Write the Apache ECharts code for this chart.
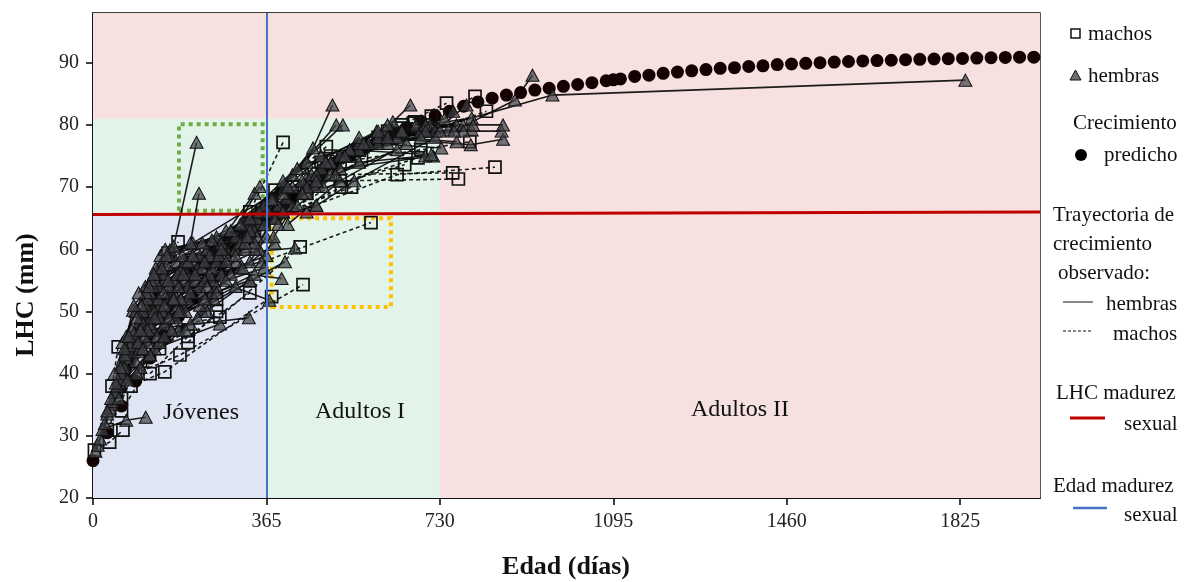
<!DOCTYPE html>
<html>
<head>
<meta charset="utf-8">
<script src="https://cdn.jsdelivr.net/npm/echarts@6/dist/echarts.min.js"></script>
<style>
  html, body { margin: 0; padding: 0; background: #fff; }
  #main { width: 1188px; height: 582px; }
</style>
</head>
<body>
<div id="main"></div>
<script>
// ejes
var etiquetasX = [0, 365, 730, 1095, 1460, 1825];
var etiquetasY = [20, 30, 40, 50, 60, 70, 80, 90];
var edadMax = 1993;
var lhcMin = 20, lhcMax = 98;

// limites de madurez y zonas
var edadMadurez = 365;
var lhcMadurez = [65.6, 66.0];
var limiteAdultosI = 730;
var lhcZonaVerde = 81;
var cajaVerde = [[181, 66.2], [357, 80.1]];
var cajaAmarilla = [[376, 50.7], [627, 65.0]];

// crecimiento predicho
var predDias = [0, 30, 60, 90, 120, 150, 180, 210, 240, 270, 300, 330, 360, 390, 420, 450, 480, 510, 540, 570,
  600, 630, 660, 690, 720, 750, 780, 810, 840, 870, 900, 930, 960, 990, 1020, 1050, 1080, 1095, 1110, 1140,
  1170, 1200, 1230, 1260, 1290, 1320, 1350, 1380, 1410, 1440, 1470, 1500, 1530, 1560, 1590, 1620, 1650, 1680,
  1710, 1740, 1770, 1800, 1830, 1860, 1890, 1920, 1950, 1980];
var predLHC = [26, 30.5, 34.8, 38.8, 42.5, 46, 49.2, 52.2, 55, 57.6, 60, 62.3, 64.6, 66.7, 68.6, 70.4, 72.1, 73.6, 75, 76.3,
  77.5, 78.6, 79.6, 80.6, 81.5, 82.2, 83, 83.7, 84.3, 84.8, 85.2, 85.6, 85.9, 86.2, 86.5, 86.8, 87.1, 87.25, 87.4, 87.8,
  88, 88.3, 88.5, 88.7, 88.9, 89.1, 89.2, 89.4, 89.5, 89.7, 89.8, 89.9, 90, 90.1, 90.2, 90.3, 90.35, 90.4,
  90.5, 90.55, 90.6, 90.65, 90.7, 90.75, 90.8, 90.85, 90.9, 90.9];

// trayectorias observadas [edad, LHC]
var hembras = [
  [[5, 27.5], [40, 35], [120, 47]],
  [[10, 28.5], [50, 37], [95, 45]],
  [[15, 29.5], [60, 39.5], [160, 52]],
  [[20, 31], [70, 32.5], [111, 33]],
  [[25, 32], [84, 50.2], [175, 58]],
  [[30, 33.5], [90, 42], [200, 52]],
  [[35, 34.5], [75, 44], [150, 55]],
  [[40, 35.5], [100, 41], [230, 50]],
  [[45, 37], [110, 47], [328, 49]],
  [[50, 38], [130, 44], [267, 48]],
  [[55, 39], [80, 46], [140, 51]],
  [[60, 40], [120, 50], [250, 57]],
  [[65, 41.5], [150, 48], [300, 54]],
  [[70, 42.5], [105, 49], [190, 55]],
  [[75, 43.5], [165, 53], [350, 60]],
  [[80, 45], [140, 54], [280, 60]],
  [[85, 46], [180, 51], [330, 55]],
  [[90, 47], [125, 52], [210, 58]],
  [[95, 48], [200, 56], [400, 66]],
  [[100, 49], [151, 55], [330, 62]],
  [[105, 50], [170, 53], [365, 59]],
  [[110, 51], [197, 58], [420, 67]],
  [[115, 52], [162, 59.9], [350, 64]],
  [[120, 53], [220, 57], [397, 55.3]],
  [[125, 54], [240, 60], [450, 69]],
  [[130, 55], [190, 57], [371, 51.8]],
  [[135, 56], [250, 59], [425, 60.2]],
  [[140, 57], [260, 62], [470, 67]],
  [[145, 58], [280, 63], [498, 72]],
  [[150, 56], [310, 61], [533, 75]],
  [[155, 57.5], [330, 64], [560, 76]],
  [[160, 59], [210, 61], [403, 70]],
  [[170, 60.5], [218, 77.2]],
  [[205, 61], [223, 69]],
  [[175, 55], [300, 60], [376, 68.2]],
  [[185, 57], [320, 62], [407, 68.2]],
  [[195, 58], [340, 63], [449, 71.4]],
  [[225, 59], [345, 65], [463, 76.3]],
  [[240, 60], [355, 66], [484, 70.1]],
  [[270, 61], [360, 67], [512, 80]],
  [[300, 62], [450, 74], [504, 83.2]],
  [[290, 63], [400, 71], [526, 80]],
  [[310, 64], [420, 72], [597, 79]],
  [[330, 65], [430, 73], [614, 79.2]],
  [[350, 66], [480, 75], [698, 79.2]],
  [[360, 64], [500, 74], [709, 80]],
  [[380, 68], [631, 80.5], [668, 83.2]],
  [[370, 66], [520, 73], [716, 75]],
  [[390, 67], [560, 74], [699, 75]],
  [[400, 69], [540, 76], [712, 75.2]],
  [[420, 70], [600, 77], [733, 76.3]],
  [[440, 71], [620, 77], [748, 79.2]],
  [[460, 72], [640, 78], [765, 77.3]],
  [[480, 73], [650, 79], [765, 80]],
  [[500, 74], [680, 80], [779, 80]],
  [[520, 75], [690, 79], [797, 79.2]],
  [[540, 76], [700, 80], [797, 81.1]],
  [[560, 77], [720, 79], [786, 83.2]],
  [[580, 77], [740, 81], [758, 82.2]],
  [[600, 78], [795, 76.8], [863, 77.7]],
  [[620, 78], [780, 79], [860, 79]],
  [[650, 79], [800, 80], [863, 80]],
  [[760, 79], [888, 84], [925, 88]],
  [[700, 79], [967, 84.8], [1836, 87.2]],
  [[330, 62], [410, 70], [467, 70.1]],
  [[340, 60], [380, 65], [470, 67.1]],
  [[230, 57], [300, 60], [384, 65]],
  [[250, 55], [330, 58], [365, 62]],
  [[200, 54], [340, 69]],
  [[260, 58], [351, 70.1]],
  [[280, 59], [376, 68]],
  [[250, 53], [382, 61]],
  [[240, 51], [404, 58]],
  [[220, 49], [330, 55]],
  [[30, 34], [65, 41], [100, 47]],
  [[38, 36], [95, 43.5], [145, 50]],
  [[48, 38.5], [115, 45], [185, 52]],
  [[58, 41], [105, 48], [170, 55]],
  [[68, 43], [135, 49], [215, 55]],
  [[78, 44.5], [125, 47.5], [230, 53]],
  [[88, 46.5], [160, 54], [245, 59]],
  [[98, 44], [175, 49], [260, 54]],
  [[108, 46], [185, 52], [290, 56]],
  [[118, 48], [205, 53], [310, 57]],
  [[128, 50], [215, 56], [320, 60]],
  [[138, 52], [235, 58], [345, 62]],
  [[148, 53], [225, 54], [300, 58]],
  [[158, 55], [245, 56], [355, 58]],
  [[168, 52], [235, 55], [315, 57]],
  [[178, 56], [265, 59], [340, 61]],
  [[188, 59], [270, 60], [330, 63]],
  [[55, 36], [92, 40], [140, 45]],
  [[72, 39], [120, 43], [165, 47]],
  [[62, 45], [90, 50], [130, 56]],
  [[45, 40], [70, 46], [110, 54]],
  [[135, 46], [195, 50], [255, 52]],
  [[120, 43], [180, 47], [240, 50]],
  [[82, 47], [150, 51], [240, 54]],
  [[92, 49], [170, 52], [270, 56]],
  [[102, 51], [180, 54], [280, 58]],
  [[112, 53], [190, 56], [300, 59]],
  [[122, 55], [200, 58], [310, 61]],
  [[132, 57], [210, 59], [320, 61]],
  [[75, 46], [140, 49], [225, 51]],
  [[95, 45], [165, 47], [205, 48]],
  [[115, 47], [185, 50], [235, 52]],
  [[142, 59], [230, 61], [325, 62]],
  [[152, 60], [250, 61.5]],
  [[105, 44], [150, 46], [195, 47]],
  [[66, 44], [100, 47], [130, 49]],
  [[86, 51], [118, 54], [145, 57]],
  [[96, 53], [128, 56], [155, 59]],
  [[160, 49], [260, 53], [340, 56]],
  [[180, 50], [280, 55], [360, 57]],
  [[380, 62], [450, 70], [560, 78]],
  [[390, 64], [470, 72], [620, 80]],
  [[400, 66], [490, 74], [600, 79]],
  [[410, 64], [520, 71], [660, 77]],
  [[430, 67], [510, 72], [640, 76]],
  [[440, 69], [530, 75], [690, 78]],
  [[450, 66], [550, 71], [720, 78]],
  [[470, 71], [570, 77], [730, 79]]
];

var machos = [
  [[3, 27.7], [35, 29], [63, 30.9]],
  [[40, 38], [53, 44.3]],
  [[60, 36], [116, 52.4], [246, 58.8]],
  [[80, 38], [151, 40.3], [376, 52.4]],
  [[90, 40], [183, 43], [442, 54.3]],
  [[100, 44], [179, 61.2]],
  [[110, 46], [158, 59.4], [267, 60.7]],
  [[130, 47], [267, 49.1], [436, 60.4]],
  [[150, 50], [250, 55], [585, 64.3]],
  [[200, 56], [330, 66], [400, 77.2]],
  [[170, 54], [383, 69.5], [491, 76.5]],
  [[190, 55], [300, 61], [523, 70]],
  [[210, 57], [340, 64], [544, 70]],
  [[230, 58], [360, 65], [565, 74.4]],
  [[250, 59], [470, 70.9], [568, 76.5]],
  [[270, 60], [400, 68], [656, 73.6]],
  [[300, 61], [450, 69], [684, 74.7]],
  [[320, 62], [500, 72], [757, 72.3]],
  [[340, 63], [520, 71], [769, 71.3]],
  [[360, 64], [640, 72], [846, 73.2]],
  [[380, 66], [550, 75], [642, 79.5]],
  [[400, 68], [560, 76], [632, 78.7]],
  [[420, 70], [600, 78], [677, 80.5]],
  [[440, 72], [620, 79], [712, 81.4]],
  [[460, 73], [650, 80], [744, 83.5]],
  [[480, 74], [700, 80], [804, 84.6]],
  [[500, 75], [710, 79], [828, 82.2]],
  [[520, 74], [690, 76], [793, 77.3]],
  [[560, 76], [674, 80.3]],
  [[200, 45], [260, 50]],
  [[30, 31], [100, 42], [200, 47]],
  [[60, 34], [140, 44], [260, 52]],
  [[120, 40], [200, 46], [330, 53]]
];

var serif = '"Liberation Serif", "DejaVu Serif", serif';
var chart = echarts.init(document.getElementById('main'));

var series = [];

// fondo de zonas
series.push({
  type: 'scatter', data: [], z: 1, silent: true,
  markArea: {
    silent: true,
    data: [
      [{ xAxis: 0, yAxis: lhcMin, itemStyle: { color: '#f6e0e0', opacity: 1 } }, { xAxis: edadMax, yAxis: lhcMax }],
      [{ xAxis: 0, yAxis: lhcMin, itemStyle: { color: '#e2f4ea', opacity: 1 } }, { xAxis: limiteAdultosI, yAxis: lhcZonaVerde }],
      [{ xAxis: 0, yAxis: lhcMin, itemStyle: { color: '#dfe5f2', opacity: 1 } }, { xAxis: edadMadurez, yAxis: lhcMadurez[0] }]
    ]
  }
});

// crecimiento predicho
series.push({
  type: 'scatter', z: 2, silent: true,
  data: predDias.map(function (d, i) { return [d, predLHC[i]]; }),
  symbol: 'circle', symbolSize: 13,
  itemStyle: { color: '#140202', opacity: 1 }
});

// lineas de trayectorias
hembras.forEach(function (t) {
  series.push({
    type: 'line', data: t, symbol: 'none', z: 3, silent: true,
    lineStyle: { color: 'rgba(5,5,5,0.9)', width: 1.6 }
  });
});
machos.forEach(function (t) {
  series.push({
    type: 'line', data: t, symbol: 'none', z: 3, silent: true,
    lineStyle: { color: 'rgba(5,5,5,0.9)', width: 1.6, type: [4, 3] }
  });
});

// marcadores
series.push({
  type: 'scatter', z: 4, silent: true,
  data: [].concat.apply([], machos),
  symbol: 'rect', symbolSize: 12,
  itemStyle: { color: 'rgba(255,255,255,0)', borderColor: '#111', borderWidth: 1.7, opacity: 1 }
});
series.push({
  type: 'scatter', z: 4, silent: true,
  data: [].concat.apply([], hembras),
  symbol: 'triangle', symbolSize: [13, 12],
  itemStyle: { color: 'rgba(62,64,70,0.7)', borderColor: '#111', borderWidth: 1, opacity: 1 }
});

// madurez sexual y cajas punteadas
series.push({
  type: 'scatter', data: [], z: 6, silent: true,
  markLine: {
    silent: true, symbol: 'none', label: { show: false },
    data: [
      [{ coord: [0, lhcMadurez[0]], lineStyle: { color: '#c00000', width: 3, type: 'solid' } }, { coord: [edadMax, lhcMadurez[1]] }],
      [{ coord: [edadMadurez, lhcMin], lineStyle: { color: '#4472c4', width: 2, type: 'solid' } }, { coord: [edadMadurez, lhcMax] }]
    ]
  },
  markArea: {
    silent: true,
    data: [
      [{ xAxis: cajaVerde[0][0], yAxis: cajaVerde[0][1], itemStyle: { color: 'rgba(0,0,0,0)', borderColor: '#70ad47', borderWidth: 4, borderType: [4, 4] } },
       { xAxis: cajaVerde[1][0], yAxis: cajaVerde[1][1] }],
      [{ xAxis: cajaAmarilla[0][0], yAxis: cajaAmarilla[0][1], itemStyle: { color: 'rgba(0,0,0,0)', borderColor: '#ffc000', borderWidth: 4, borderType: [4, 4] } },
       { xAxis: cajaAmarilla[1][0], yAxis: cajaAmarilla[1][1] }]
    ]
  }
});

var txt = function (text, x, y, extra) {
  var s = { text: text, x: x, y: y, font: '21px ' + serif, fill: '#111', textVerticalAlign: 'middle' };
  for (var k in extra) s[k] = extra[k];
  return { type: 'text', style: s, z: 10 };
};

chart.setOption({
  animation: false,
  grid: { left: 93, right: 148, top: 13, bottom: 84, show: true, borderColor: '#000', borderWidth: 1.3, backgroundColor: 'rgba(0,0,0,0)' },
  xAxis: {
    type: 'value', min: 0, max: edadMax,
    axisLine: { lineStyle: { color: '#000', width: 1.5 } },
    axisTick: { length: 7, customValues: etiquetasX, lineStyle: { color: '#000', width: 1.5 } },
    axisLabel: { customValues: etiquetasX, formatter: function (v) { return String(v); }, color: '#222', fontFamily: serif, fontSize: 20, margin: 14 },
    splitLine: { show: false }
  },
  yAxis: {
    type: 'value', min: lhcMin, max: lhcMax,
    axisLine: { lineStyle: { color: '#000', width: 1.5 } },
    axisTick: { length: 7, customValues: etiquetasY, lineStyle: { color: '#000', width: 1.5 } },
    axisLabel: { customValues: etiquetasY, formatter: function (v) { return String(v); }, color: '#222', fontFamily: serif, fontSize: 20, margin: 14 },
    splitLine: { show: false }
  },
  series: series,
  graphic: [
    txt('Jóvenes', 201, 413, { textAlign: 'center', font: '24px ' + serif }),
    txt('Adultos I', 360, 412, { textAlign: 'center', font: '24px ' + serif }),
    txt('Adultos II', 740, 410, { textAlign: 'center', font: '24px ' + serif }),
    txt('Edad (días)', 566, 567, { textAlign: 'center', font: 'bold 26px ' + serif }),
    { type: 'text', x: 26, y: 295, rotation: Math.PI / 2,
      style: { text: 'LHC (mm)', x: 0, y: 0, textAlign: 'center', textVerticalAlign: 'middle', font: 'bold 26px ' + serif, fill: '#111' } },
    // leyenda
    { type: 'rect', shape: { x: 1071, y: 29, width: 9, height: 9 }, style: { fill: '#fff', stroke: '#111', lineWidth: 1.5 } },
    txt('machos', 1088, 34),
    { type: 'polygon', shape: { points: [[1075.5, 70], [1070, 80], [1081, 80]] }, style: { fill: '#6e6e6e', stroke: '#111', lineWidth: 1 } },
    txt('hembras', 1088, 76),
    txt('Crecimiento', 1073, 123),
    { type: 'circle', shape: { cx: 1081, cy: 155, r: 6 }, style: { fill: '#000' } },
    txt('predicho', 1104, 155),
    txt('Trayectoria de', 1053, 215),
    txt('crecimiento', 1053, 244),
    txt('observado:', 1058, 273),
    { type: 'line', shape: { x1: 1063, y1: 302, x2: 1093, y2: 302 }, style: { stroke: '#111', lineWidth: 1 } },
    txt('hembras', 1106, 304),
    { type: 'line', shape: { x1: 1063, y1: 331, x2: 1093, y2: 331 }, style: { stroke: '#111', lineWidth: 1, lineDash: [3, 2] } },
    txt('machos', 1113, 334),
    txt('LHC madurez', 1056, 393),
    { type: 'line', shape: { x1: 1070, y1: 418, x2: 1105, y2: 418 }, style: { stroke: '#c00000', lineWidth: 3 } },
    txt('sexual', 1124, 424),
    txt('Edad madurez', 1053, 486),
    { type: 'line', shape: { x1: 1073, y1: 508, x2: 1107, y2: 508 }, style: { stroke: '#4472c4', lineWidth: 2.5 } },
    txt('sexual', 1124, 515)
  ]
});
</script>
</body>
</html>
